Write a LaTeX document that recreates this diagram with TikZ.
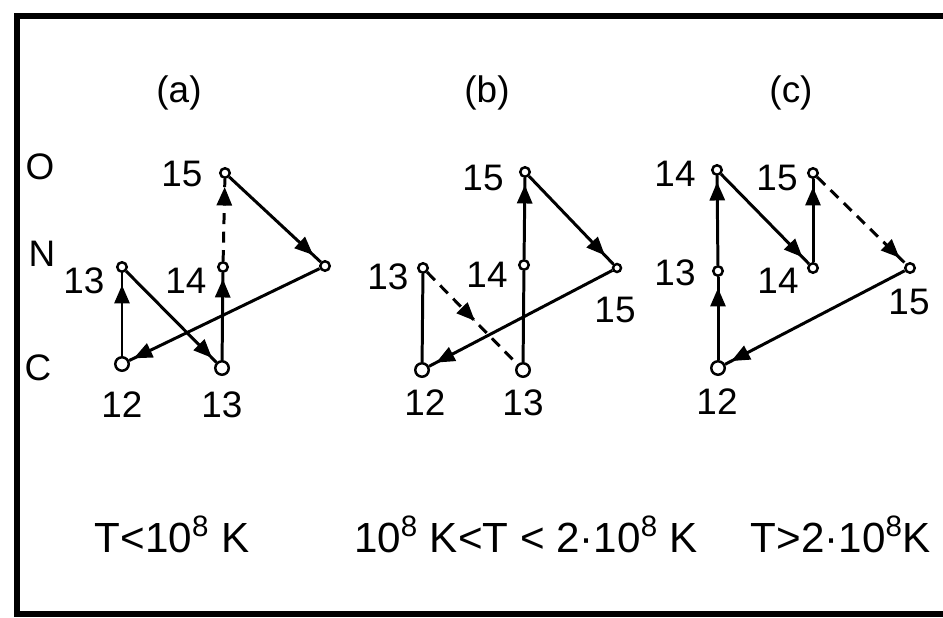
\documentclass[tikz,border=0pt]{standalone}
\usepackage{fontspec}
\setmainfont{Liberation Sans}
\usetikzlibrary{arrows.meta,decorations.markings}

\begin{document}
\begin{tikzpicture}[x=0.02cm,y=-0.02cm,
  lbl/.style={inner sep=0pt,font=\fontsize{21}{25}\selectfont},
  templbl/.style={inner sep=0pt,anchor=base,font=\fontsize{24}{28}\selectfont},
  nuc/.style={circle,draw,line width=1.4pt,inner sep=0pt,minimum size=0.19cm},
  bignuc/.style={nuc,minimum size=0.27cm},
  link/.style={line width=1.7pt},
  dsh/.style={dash pattern=on 0.22cm off 0.15cm},
  flow/.style={postaction={decorate},decoration={markings,
    mark=at position #1 with {\arrow{Triangle[length=0.37cm,width=0.3cm]}}}}]
  \useasboundingbox (0,0) rectangle (943,618);
  % frame, open on the right
  \draw[line width=3.4pt] (945,16) -- (17,16) -- (17,614) -- (945,614);

  % row letters and panel titles
  \node[lbl] (rowO) at (40,167) {O};
  \node[lbl] (rowN) at (42,254) {N};
  \node[lbl] (rowC) at (38,368) {C};
  \node[lbl] (ta) at (179,93) {(a)};
  \node[lbl] (tb) at (487,93) {(b)};
  \node[lbl] (tc) at (791,93) {(c)};

  % (a)
  \node[bignuc] (aC12) at (122,364) {};
  \node[bignuc] (aC13) at (222,368) {};
  \node[nuc] (aN13) at (122,267) {};
  \node[nuc] (aN14) at (223,267) {};
  \node[nuc] (aN15) at (325,266) {};
  \node[nuc] (aO15) at (225,173) {};
  \node[lbl] (aL12) at (122,405) {12};
  \node[lbl] (aLC13) at (222,405) {13};
  \node[lbl] (aLN13) at (84,281) {13};
  \node[lbl] (aLN14) at (186,281) {14};
  \node[lbl] (aLO15) at (182,174) {15};
  \draw[link,flow=-0.24cm] (aC12) -- (aN13);
  \draw[link,flow=-0.12cm] (aN13) -- (aC13);
  \draw[link,flow=-0.12cm] (aC13) -- (aN14);
  \draw[link,dsh,flow=-0.16cm] (aN14) -- (aO15);
  \draw[link,flow=-0.2cm] (aO15) -- (aN15);
  \draw[link,flow=-0.1cm] (aN15) -- (aC12);

  % (b)
  \node[bignuc] (bC12) at (422,370) {};
  \node[bignuc] (bC13) at (523,370) {};
  \node[nuc] (bN13) at (423,268) {};
  \node[nuc] (bN14) at (524,265) {};
  \node[nuc,minimum size=0.16cm] (bN15) at (617,268) {};
  \node[nuc] (bO15) at (525,172) {};
  \node[lbl] (bL12) at (425,403) {12};
  \node[lbl] (bLC13) at (523,403) {13};
  \node[lbl] (bLN13) at (388,277) {13};
  \node[lbl] (bLN14) at (487,275) {14};
  \node[lbl] (bLN15) at (615,310) {15};
  \node[lbl] (bLO15) at (483,178) {15};
  \draw[link] (bC12) -- (bN13);
  \draw[link,dsh,flow=0.53] (bN13) -- (bC13);
  \draw[link] (bC13) -- (bN14);
  \draw[link,flow=-0.14cm] (bN14) -- (bO15);
  \draw[link,flow=-0.24cm] (bO15) -- (bN15);
  \draw[link,flow=-0.16cm] (bN15) -- (bC12);

  % (c)
  \node[bignuc] (cC12) at (718,368) {};
  \node[nuc] (cN13) at (718,271) {};
  \node[nuc] (cO14) at (717,170) {};
  \node[nuc] (cN14) at (813,268) {};
  \node[nuc] (cO15) at (813,173) {};
  \node[nuc] (cN15) at (910,268) {};
  \node[lbl] (cL12) at (717,402) {12};
  \node[lbl] (cLN13) at (675,273) {13};
  \node[lbl] (cLO14) at (675,174) {14};
  \node[lbl] (cLN14) at (778,281) {14};
  \node[lbl] (cLO15) at (777,178) {15};
  \node[lbl] (cLN15) at (909,302) {15};
  \draw[link,flow=-0.22cm] (cC12) -- (cN13);
  \draw[link,flow=-0.12cm] (cN13) -- (cO14);
  \draw[link,flow=-0.18cm] (cO14) -- (cN14);
  \draw[link,flow=-0.16cm] (cN14) -- (cO15);
  \draw[link,dsh,flow=-0.17cm] (cO15) -- (cN15);
  \draw[link,flow=-0.14cm] (cN15) -- (cC12);

  % temperature ranges
  \node[templbl] (tmpa) at (172,552) {T<10\textsuperscript{8} K};
  \node[templbl] (tmpb) at (526,552) {10\textsuperscript{8} K<T < 2·10\textsuperscript{8} K};
  \node[templbl] (tmpc) at (841,552) {T>2·10\textsuperscript{8}K};
\end{tikzpicture}
\end{document}
